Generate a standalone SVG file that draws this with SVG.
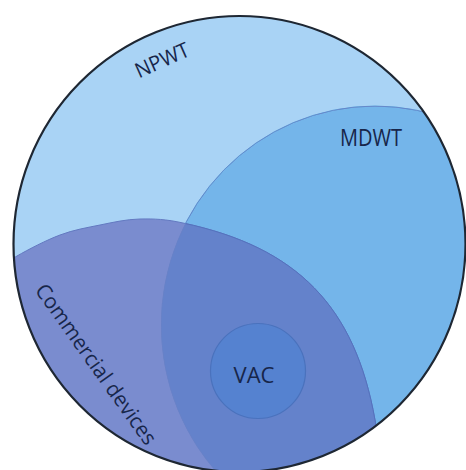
<svg xmlns="http://www.w3.org/2000/svg" width="466" height="470" viewBox="0 0 466 470">
<style>
.lbl{font-family:"Open Sans","Noto Sans","Liberation Sans",sans-serif;fill:#17264a;}
.edge{stroke-width:1;}
</style>
<defs>
<clipPath id="clipOuter"><ellipse cx="239.5" cy="244" rx="226" ry="228"/></clipPath>
<clipPath id="clipMdwt"><ellipse cx="375" cy="325" rx="214" ry="219"/></clipPath>
</defs>
<rect width="466" height="470" fill="#ffffff"/>
<g id="npwt">
<ellipse cx="239.5" cy="244" rx="226" ry="228" fill="#a9d3f5"/>
<text class="lbl" transform="translate(162,60) rotate(-24)" x="0" y="7.5" font-size="21" text-anchor="middle" textLength="57" lengthAdjust="spacingAndGlyphs">NPWT</text>
</g>
<g clip-path="url(#clipOuter)">
<g id="mdwt">
<ellipse cx="375" cy="325" rx="214" ry="219" fill="#74b5ea" stroke="#5d9fd8" class="edge"/>
<text class="lbl" x="371" y="146" font-size="23" text-anchor="middle" textLength="62" lengthAdjust="spacingAndGlyphs">MDWT</text>
</g>
<g id="commercial">
<path d="M -10,275 C -1,268.7 5.3,262.7 17,256 C 28.7,249.3 46.2,240.2 60,235 C 73.8,229.8 86.7,227.7 100,225 C 113.3,222.3 126.2,219.3 140,219 C 153.8,218.7 166.3,219.2 183,223 C 297.3,247.3 354.9,306.4 375,420 C 377.4,433.8 379,447 380,460 L 382,480 L -10,480 Z" fill="#7a8ccf" stroke="#6379c0" class="edge"/>
<text class="lbl" transform="translate(95,365) rotate(54.5)" x="0" y="6" font-size="21" text-anchor="middle" textLength="192" lengthAdjust="spacingAndGlyphs">Commercial devices</text>
</g>
<g id="overlap" clip-path="url(#clipMdwt)">
<path d="M -10,275 C -1,268.7 5.3,262.7 17,256 C 28.7,249.3 46.2,240.2 60,235 C 73.8,229.8 86.7,227.7 100,225 C 113.3,222.3 126.2,219.3 140,219 C 153.8,218.7 166.3,219.2 183,223 C 297.3,247.3 354.9,306.4 375,420 C 377.4,433.8 379,447 380,460 L 382,480 L -10,480 Z" fill="#6482cb" stroke="#5472bd" class="edge"/>
<ellipse cx="375" cy="325" rx="214" ry="219" fill="none" stroke="#6a82c6" class="edge"/>
</g>
</g>
<g id="vac">
<circle cx="258" cy="371" r="47.5" fill="#5582d0" stroke="#4a72bd" stroke-width="1.2"/>
<text class="lbl" x="254" y="383" font-size="22" text-anchor="middle">VAC</text>
</g>
<g id="connectors"></g>
<ellipse cx="239.5" cy="244" rx="226" ry="228" fill="none" stroke="#1e2733" stroke-width="2.2"/>
</svg>
